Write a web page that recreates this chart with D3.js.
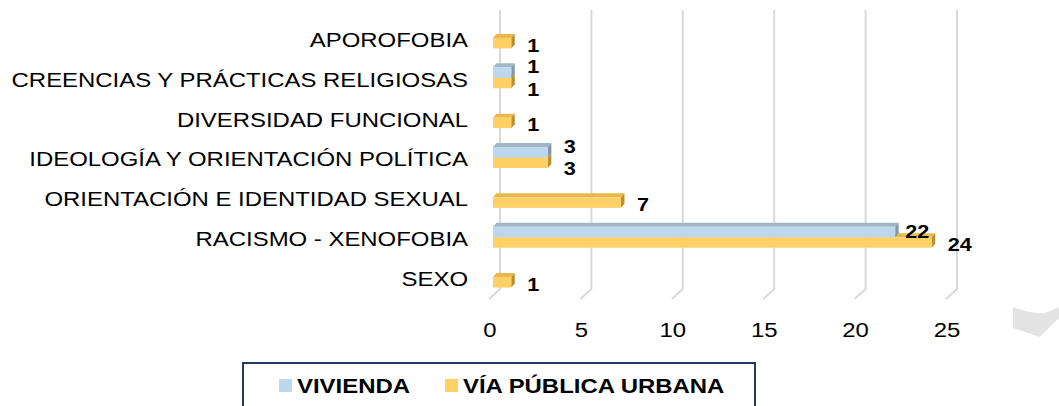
<!DOCTYPE html>
<html>
<head>
<meta charset="utf-8">
<script src="https://cdn.jsdelivr.net/npm/d3@7"></script>
<style>
  html, body { margin: 0; padding: 0; background: #fff; }
  svg { display: block; font-family: Arial, "Liberation Sans", sans-serif; }
</style>
</head>
<body>
<svg id="chart" width="1059" height="406"></svg>
<script>
const categories = [
  "APOROFOBIA",
  "CREENCIAS Y PRÁCTICAS RELIGIOSAS",
  "DIVERSIDAD FUNCIONAL",
  "IDEOLOGÍA Y ORIENTACIÓN POLÍTICA",
  "ORIENTACIÓN E IDENTIDAD SEXUAL",
  "RACISMO - XENOFOBIA",
  "SEXO"
];
const vivienda = [null, 1, null, 3, null, 22, null];
const viaPublica = [1, 1, 1, 3, 7, 24, 1];
const seriesNames = ["VIVIENDA", "VÍA PÚBLICA URBANA"];
const xTicks = [0, 5, 10, 15, 20, 25];

const svg = d3.select("#chart");
svg.append("rect").attr("width", 1059).attr("height", 406).attr("fill", "#fff");

const SX = 1.14; // horizontal stretch of the original picture
function stext(g, x, y, str, opts) {
  const t = g.append("text")
    .attr("transform", `translate(${x},${y}) scale(${SX},1)`)
    .attr("text-anchor", opts.anchor || "start")
    .attr("font-size", opts.size || 21)
    .attr("font-weight", opts.weight || "normal")
    .attr("fill", opts.fill || "#000")
    .text(str);
  if (opts.baseline) t.attr("dominant-baseline", opts.baseline);
  return t;
}

const x = d3.scaleLinear().domain([0, 25]).range([500, 957]);
const y = d3.scaleBand().domain(categories).range([18, 297]).padding(0);

// gridlines with 3D floor foot
const gGrid = svg.append("g");
xTicks.forEach(t => {
  const gx = x(t);
  gGrid.append("path")
    .attr("d", `M${gx},10 V289 L${gx - 11},299`)
    .attr("fill", "none")
    .attr("stroke", "#d9d9d9")
    .attr("stroke-width", 2);
  stext(gGrid, gx - 10, 337, String(t), {anchor: "middle", size: 21});
});

// category labels
const gCat = svg.append("g");
categories.forEach(c => {
  const cy = y(c) + y.bandwidth() / 2;
  stext(gCat, 468, cy + 2, c, {anchor: "end", size: 21, baseline: "central"});
});

// 3D bars
const FRONT = 7, DX = 3.5, DY = 4, BH = 10.5;
const styles = {
  viv: {front: "#bdd7ee", top: "#a3b6c9", side: "#8497aa"},
  via: {front: "#ffd066", top: "#e9b84c", side: "#b8902f"}
};
function bar3d(g, v, top, st) {
  const x0 = x(0) - FRONT, x1 = x(v) - FRONT;
  g.append("path")
    .attr("d", `M${x0},${top} L${x0 + DX},${top - DY} L${x1 + DX},${top - DY} L${x1},${top} Z`)
    .attr("fill", st.top);
  g.append("path")
    .attr("d", `M${x1},${top} L${x1 + DX},${top - DY} L${x1 + DX},${top + BH - DY} L${x1},${top + BH} Z`)
    .attr("fill", st.side);
  g.append("rect")
    .attr("x", x0).attr("y", top)
    .attr("width", x1 - x0).attr("height", BH)
    .attr("fill", st.front);
}

const gBars = svg.append("g");
const gLab = svg.append("g");
categories.forEach((c, i) => {
  const cy = y(c) + y.bandwidth() / 2;
  const a = vivienda[i], b = viaPublica[i];
  const close = a != null && b != null && Math.abs(a - b) < 2;
  if (b != null) {
    bar3d(gBars, b, cy, styles.via);
    stext(gLab, x(b) - FRONT + 16, cy + BH / 2 + (close ? 6 : 2), String(b),
      {size: 19, weight: "bold", baseline: "central"});
  }
  if (a != null) {
    bar3d(gBars, a, cy - BH, styles.viv);
    stext(gLab, x(a) - FRONT + (close ? 16 : 10), cy - BH / 2 + (close ? -6 : 0), String(a),
      {size: 19, weight: "bold", baseline: "central"});
  }
});

// legend
const gLeg = svg.append("g");
gLeg.append("rect")
  .attr("x", 243).attr("y", 363).attr("width", 512).attr("height", 60)
  .attr("fill", "#fff").attr("stroke", "#203864").attr("stroke-width", 2);
const legItems = [
  {name: seriesNames[0], color: styles.viv.front, sx: 279, tx: 297},
  {name: seriesNames[1], color: styles.via.front, sx: 445, tx: 463}
];
legItems.forEach(it => {
  gLeg.append("rect").attr("x", it.sx).attr("y", 379).attr("width", 13).attr("height", 13).attr("fill", it.color);
  stext(gLeg, it.tx, 393, it.name, {size: 21, weight: "bold"});
});

// page-curl shadow at right
svg.append("path")
  .attr("d", "M1013,307 Q1040,317 1050,311 L1059,307 L1059,318 L1040,337 L1013,328 Z")
  .attr("fill", "#e3e3e3");
</script>
</body>
</html>
